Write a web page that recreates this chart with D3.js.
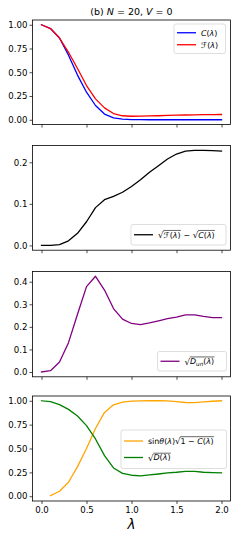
<!DOCTYPE html>
<html><head><meta charset="utf-8">
<script src="https://cdn.jsdelivr.net/npm/d3@7"></script>
<style>
html,body{margin:0;padding:0;background:#fff;}
svg{display:block;}
text{font-family:"DejaVu Sans",sans-serif;fill:#000;}
</style></head>
<body>
<script>
// ---------- data ----------
const lambdas = [0.0,0.1,0.2,0.3,0.4,0.5,0.6,0.7,0.8,0.9,1.0,1.1,1.2,1.3,1.4,1.5,1.6,1.7,1.8,1.9,2.0];
const seriesC = [1.0,0.96,0.86,0.68,0.47,0.29,0.15,0.06,0.02,0.007,0.002,0.001,0.0,0.0,0.0,0.0,0.0,0.0,0.0,0.0,0.0];
const seriesF = [1.0,0.96,0.86,0.71,0.54,0.36,0.22,0.125,0.065,0.042,0.037,0.038,0.04,0.042,0.045,0.048,0.05,0.052,0.053,0.054,0.055];
const seriesDiff = [0,0,0.002,0.011,0.029,0.057,0.091,0.11,0.118,0.128,0.142,0.158,0.176,0.192,0.208,0.22,0.227,0.229,0.229,0.228,0.227];
const seriesDun = [0,0.006,0.044,0.13,0.256,0.378,0.424,0.363,0.281,0.234,0.215,0.21,0.218,0.227,0.236,0.243,0.253,0.253,0.246,0.241,0.241];
const seriesSin = [null,0.007,0.052,0.146,0.31,0.50,0.71,0.878,0.958,0.986,0.996,0.999,1.0,1.0,0.998,0.99,0.982,0.98,0.988,0.995,1.0];
const seriesD = [1.0,0.99,0.96,0.91,0.84,0.74,0.60,0.425,0.296,0.24,0.22,0.213,0.223,0.233,0.244,0.251,0.261,0.261,0.251,0.247,0.244];

const xTicks = [0.0,0.5,1.0,1.5,2.0];
const yTicks1 = [0,0.25,0.5,0.75,1.0];
const yTicks2 = [0,0.1,0.2];
const yTicks3 = [0,0.1,0.2,0.3,0.4];
const yTicks4 = [0,0.25,0.5,0.75,1.0];

// ---------- layout ----------
const W = 240, H = 540;
const L = 32.5, R = 230.5;
const svg = d3.select("body").append("svg").attr("width", W).attr("height", H);

const x = d3.scaleLinear().domain([-0.1, 2.1]).range([L, R]);

const panels = [
  {top:20, bot:124.5, dom:[-0.05,1.05], ticks:yTicks1, fmt:d3.format(".2f"),
   series:[{v:seriesC,c:"#0000ff"},{v:seriesF,c:"#ff0000"}],
   legend:{x:174,y:24,w:51.5,h:29.5, gap:12, rows:[
     {c:"#0000ff", lab:[{s:"C",it:1},{s:"("},{s:"λ",it:1},{s:")"}]},
     {c:"#ff0000", lab:[{s:"ℱ("},{s:"λ",it:1},{s:")"}]}]}},
  {top:145.5, bot:250.2, dom:[-0.0115,0.2405], ticks:yTicks2, fmt:d3.format(".1f"),
   series:[{v:seriesDiff,c:"#000000"}],
   legend:{x:131,y:224.5,w:95,h:20.5, rows:[
     {c:"#000000", lab:[{sqrt:[{s:"ℱ("},{s:"λ",it:1},{s:")"}]},{s:" − "},{sqrt:[{s:"C",it:1},{s:"("},{s:"λ",it:1},{s:")"}]}]}]}},
  {top:271.5, bot:376.8, dom:[-0.0212,0.4452], ticks:yTicks3, fmt:d3.format(".1f"),
   series:[{v:seriesDun,c:"#800080"}],
   legend:{x:157.5,y:351.5,w:69,h:19.5, rows:[
     {c:"#800080", lab:[{sqrt:[{s:"D",it:1},{s:"un",it:1,sub:1},{s:"("},{s:"λ",it:1},{s:")"}]}]}]}},
  {top:396, bot:501, dom:[-0.05,1.05], ticks:yTicks4, fmt:d3.format(".2f"),
   series:[{v:seriesSin,c:"#ffa500"},{v:seriesD,c:"#008000"}],
   legend:{x:121,y:430,w:105.5,h:38.5, gap:16.5, rows:[
     {c:"#ffa500", lab:[{s:"sin"},{s:"θ",it:1},{s:"("},{s:"λ",it:1},{s:")"},{sqrt:[{s:"1 − "},{s:"C",it:1},{s:"("},{s:"λ",it:1},{s:")"}]}]},
     {c:"#008000", lab:[{sqrt:[{s:"D",it:1},{s:"("},{s:"λ",it:1},{s:")"}]}]}]}}
];

const FS = 8.6;
const LFS = 7.9;

function drawLabel(g, tokens, x0, y0) {
  let cx = x0;
  tokens.forEach(tk => {
    if (tk.sqrt) {
      const rt = g.append("text").attr("x", cx).attr("y", y0 + 0.5).attr("font-size", LFS*1.1)
        .attr("font-family","DejaVu Serif").text("√");
      const rw = rt.node().getComputedTextLength();
      const start = cx + rw - 0.3;
      const end = drawLabel(g, tk.sqrt, start + 0.3, y0);
      g.append("line").attr("x1", start).attr("x2", end + 0.3)
        .attr("y1", y0 - LFS*0.9).attr("y2", y0 - LFS*0.9)
        .attr("stroke", "#000").attr("stroke-width", 0.6);
      cx = end + 0.5;
    } else {
      const t = g.append("text").attr("x", cx).attr("y", tk.sub ? y0 + 1.8 : y0)
        .attr("font-size", tk.sub ? LFS*0.72 : LFS)
        .attr("font-family", "DejaVu Serif")
        .attr("font-style", tk.it ? "italic" : "normal")
        .style("white-space","pre")
        .attr("xml:space","preserve")
        .text(tk.s);
      cx += t.node().getComputedTextLength();
    }
  });
  return cx;
}

panels.forEach((p, i) => {
  const y = d3.scaleLinear().domain(p.dom).range([p.bot, p.top]);
  const g = svg.append("g");
  p.series.forEach(s => {
    const line = d3.line()
      .defined((d, j) => s.v[j] !== null)
      .x((d, j) => x(lambdas[j]))
      .y((d, j) => y(s.v[j]));
    g.append("path").datum(lambdas).attr("d", line)
      .attr("fill", "none").attr("stroke", s.c).attr("stroke-width", 1.3)
      .attr("stroke-linejoin", "round").attr("stroke-linecap", "square");
  });
  const ya = d3.axisLeft(y).tickValues(p.ticks).tickFormat(p.fmt).tickSize(3).tickPadding(2);
  const yg = g.append("g").attr("transform", `translate(${L},0)`).call(ya);
  yg.select(".domain").remove();
  yg.selectAll("text").attr("font-size", FS).attr("font-family", "DejaVu Sans").attr("fill","#000");
  yg.selectAll("line").attr("stroke", "#000").attr("stroke-width", 0.7);
  const xa = d3.axisBottom(x).tickValues(xTicks).tickFormat(i === 3 ? d3.format(".1f") : () => "").tickSize(3).tickPadding(3);
  const xg = g.append("g").attr("transform", `translate(0,${p.bot})`).call(xa);
  xg.select(".domain").remove();
  xg.selectAll("text").attr("font-size", FS).attr("font-family", "DejaVu Sans").attr("fill","#000");
  xg.selectAll("line").attr("stroke", "#000").attr("stroke-width", 0.7);
  g.append("rect").attr("x", L).attr("y", p.top).attr("width", R - L).attr("height", p.bot - p.top)
    .attr("fill", "none").attr("stroke", "#000").attr("stroke-width", 0.8);
  const lg = p.legend;
  const leg = g.append("g");
  leg.append("rect").attr("x", lg.x).attr("y", lg.y).attr("width", lg.w).attr("height", lg.h)
    .attr("rx", 2).attr("fill", "#fff").attr("fill-opacity", 0.8)
    .attr("stroke", "#d0d0d0").attr("stroke-width", 0.7);
  const n = lg.rows.length;
  lg.rows.forEach((r, k) => {
    const cy = n === 1 ? lg.y + lg.h/2 : lg.y + lg.h/2 + (k - (n-1)/2) * lg.gap;
    leg.append("line").attr("x1", lg.x + 3).attr("x2", lg.x + 22).attr("y1", cy).attr("y2", cy)
      .attr("stroke", r.c).attr("stroke-width", 1.3);
    drawLabel(leg, r.lab, lg.x + 27, cy + 2.8);
  });
});

const title = svg.append("text").attr("x", (L + R)/2).attr("y", 14.5).attr("text-anchor", "middle")
  .attr("font-size", 9.5);
title.append("tspan").text("(b) ");
title.append("tspan").attr("font-style", "italic").text("N");
title.append("tspan").text(" = 20, ");
title.append("tspan").attr("font-style", "italic").text("V");
title.append("tspan").text(" = 0");

svg.append("text").attr("x", (L + R)/2).attr("y", 529).attr("text-anchor", "middle")
  .attr("font-size", 13.5).attr("font-style", "italic").text("λ");
</script>
</body></html>
